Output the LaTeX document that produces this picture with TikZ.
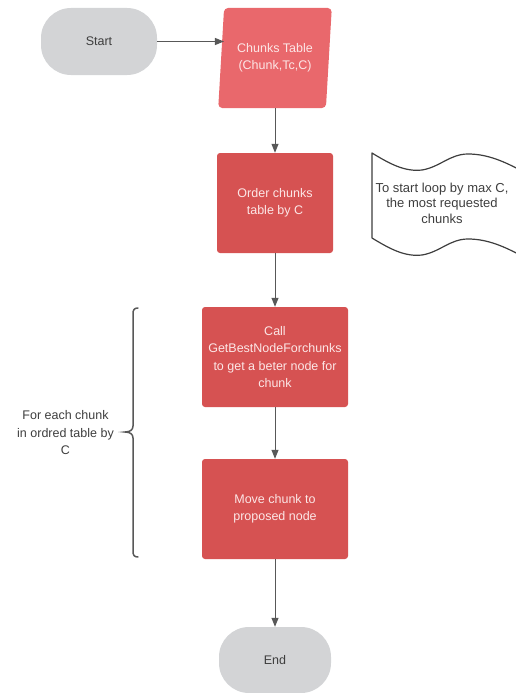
\documentclass[tikz,border=0pt]{standalone}
\usepackage{fontspec}
\setmainfont{Liberation Sans}
\usetikzlibrary{shapes.geometric,arrows.meta}
\definecolor{boxred}{RGB}{214,82,82}
\definecolor{datared}{RGB}{233,104,108}
\definecolor{termgray}{RGB}{211,212,214}
\definecolor{linegray}{RGB}{88,88,88}
\definecolor{boxtext}{RGB}{252,230,230}
\definecolor{darktext}{RGB}{62,62,62}
\begin{document}
\begin{tikzpicture}[x=1pt,y=-1pt,
  font=\fontsize{12.5}{17.5}\selectfont,
  terminal/.style={fill=termgray, draw=none, rounded corners=30pt,
    minimum width=116pt, minimum height=67pt, text=darktext, inner sep=0pt},
  process/.style={fill=boxred, draw=none, rounded corners=3pt,
    minimum width=146pt, minimum height=100pt, text=boxtext, align=center, inner sep=2pt},
  datashape/.style={trapezium, trapezium left angle=81.5, trapezium right angle=98.5,
    trapezium stretches=true, fill=datared, draw=none, rounded corners=4pt,
    minimum width=114pt, minimum height=100pt, text=boxtext, align=center, inner sep=0pt},
  flow/.style={draw=linegray, line width=1pt, -{Triangle[length=9pt,width=7pt]}},
  notebox/.style={draw=darktext, line width=1.2pt, line join=round},
  notetext/.style={text=darktext, align=center, font=\fontsize{13}{15.5}\selectfont},
  bracket/.style={draw=linegray, line width=1.5pt, line cap=round},
  sidetext/.style={text=darktext, align=center, inner sep=2pt},
]
\useasboundingbox (0,0) rectangle (516,693);

% flow steps
\node[terminal] (start) at (99,41.5) {Start};
\node[datashape] (table) at (275,58) {Chunks Table\\(Chunk,Tc,C)};
\node[process, minimum width=116pt] (order) at (275,203) {Order chunks\\table by C};
\node[process] (call) at (275,357) {Call\\GetBestNodeForchunks\\to get a beter node for\\chunk};
\node[process] (move) at (275,509) {Move chunk to\\proposed node};
\node[terminal, minimum width=112pt, minimum height=66pt] (end) at (275,660) {End};

% connectors
\draw[flow] (start.east) -- ([xshift=3pt]start.east -| table.west);
\draw[flow] (order |- table.south) -- (order.north);
\draw[flow] (order.south) -- (call.north);
\draw[flow] (call.south) -- (move.north);
\draw[flow] (move.south) -- (end.north);

% annotation: wavy note, open on the right
\draw[notebox]
  (522,171) .. controls (505,162) and (488,154) .. (468,154)
  .. controls (450,154) and (440,167) .. (422,170)
  .. controls (405,172) and (390,164) .. (372,153)
  -- (372,238)
  .. controls (390,249) and (405,257) .. (422,255)
  .. controls (440,252) and (450,239) .. (468,239)
  .. controls (488,239) and (505,247) .. (522,256);
\node[notetext] (note) at (442,203) {To start loop by max C,\\the most requested\\chunks};

% loop bracket and its label
\draw[bracket] (138,308) .. controls (134,308) and (133,310) .. (133,314)
  -- (133,426) .. controls (133,430) and (130,432) .. (125,432)
  .. controls (130,432) and (133,434) .. (133,438)
  -- (133,551) .. controls (133,555) and (134,557) .. (138,557);
\node[sidetext, anchor=east] (looptext) at (116,433) {For each chunk\\in ordred table by\\C};
\end{tikzpicture}
\end{document}
